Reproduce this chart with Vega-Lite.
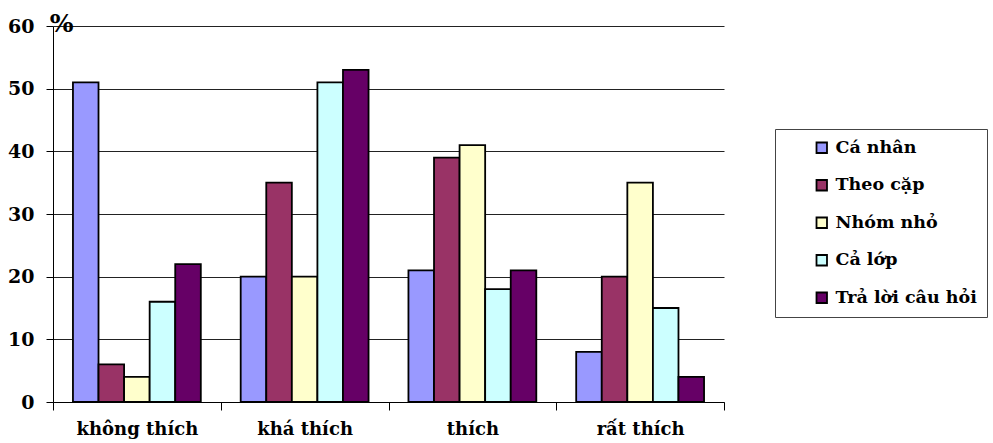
{
  "$schema": "https://vega.github.io/schema/vega-lite/v6.json",
  "autosize": "none",
  "width": 671,
  "height": 376,
  "padding": {"left": 53, "top": 26, "right": 269, "bottom": 41},
  "background": "white",
  "config": {
    "view": {"stroke": null},
    "font": "DejaVu Serif",
    "axis": {"labelFont": "DejaVu Serif", "titleFont": "DejaVu Serif"},
    "legend": {"labelFont": "DejaVu Serif"}
  },
  "data": {
    "values": [
      {"muc": "không thích", "hinh_thuc": "Cá nhân", "pt": 51},
      {"muc": "không thích", "hinh_thuc": "Theo cặp", "pt": 6},
      {"muc": "không thích", "hinh_thuc": "Nhóm nhỏ", "pt": 4},
      {"muc": "không thích", "hinh_thuc": "Cả lớp", "pt": 16},
      {"muc": "không thích", "hinh_thuc": "Trả lời câu hỏi", "pt": 22},
      {"muc": "khá thích", "hinh_thuc": "Cá nhân", "pt": 20},
      {"muc": "khá thích", "hinh_thuc": "Theo cặp", "pt": 35},
      {"muc": "khá thích", "hinh_thuc": "Nhóm nhỏ", "pt": 20},
      {"muc": "khá thích", "hinh_thuc": "Cả lớp", "pt": 51},
      {"muc": "khá thích", "hinh_thuc": "Trả lời câu hỏi", "pt": 53},
      {"muc": "thích", "hinh_thuc": "Cá nhân", "pt": 21},
      {"muc": "thích", "hinh_thuc": "Theo cặp", "pt": 39},
      {"muc": "thích", "hinh_thuc": "Nhóm nhỏ", "pt": 41},
      {"muc": "thích", "hinh_thuc": "Cả lớp", "pt": 18},
      {"muc": "thích", "hinh_thuc": "Trả lời câu hỏi", "pt": 21},
      {"muc": "rất thích", "hinh_thuc": "Cá nhân", "pt": 8},
      {"muc": "rất thích", "hinh_thuc": "Theo cặp", "pt": 20},
      {"muc": "rất thích", "hinh_thuc": "Nhóm nhỏ", "pt": 35},
      {"muc": "rất thích", "hinh_thuc": "Cả lớp", "pt": 15},
      {"muc": "rất thích", "hinh_thuc": "Trả lời câu hỏi", "pt": 4}
    ]
  },
  "mark": {"type": "bar", "stroke": "black", "strokeWidth": 1.8},
  "encoding": {
    "x": {
      "field": "muc",
      "type": "nominal",
      "sort": ["không thích", "khá thích", "thích", "rất thích"],
      "scale": {"paddingInner": 0, "paddingOuter": 0},
      "axis": {
        "title": null,
        "labelAngle": 0,
        "labelFontWeight": "bold",
        "labelFontSize": 18,
        "labelColor": "black",
        "labelPadding": 10,
        "domainColor": "black",
        "domainWidth": 1,
        "tickColor": "black",
        "tickSize": 8,
        "tickBand": "extent",
        "grid": false
      }
    },
    "xOffset": {
      "field": "hinh_thuc",
      "type": "nominal",
      "sort": ["Cá nhân", "Theo cặp", "Nhóm nhỏ", "Cả lớp", "Trả lời câu hỏi"],
      "scale": {"paddingInner": 0, "paddingOuter": 0.78}
    },
    "y": {
      "field": "pt",
      "type": "quantitative",
      "scale": {"domain": [0, 60]},
      "axis": {
        "title": "%",
        "titleAngle": 0,
        "titleX": 8,
        "titleY": 5,
        "titleAlign": "center",
        "titleBaseline": "alphabetic",
        "titleFontWeight": "bold",
        "titleFontSize": 25,
        "titleColor": "black",
        "values": [0, 10, 20, 30, 40, 50, 60],
        "labelFontWeight": "bold",
        "labelFontSize": 19,
        "labelColor": "black",
        "labelPadding": 12,
        "domainColor": "black",
        "tickColor": "black",
        "tickSize": 7,
        "grid": true,
        "gridColor": "#222222",
        "gridWidth": 1,
        "gridOpacity": 1
      }
    },
    "color": {
      "field": "hinh_thuc",
      "type": "nominal",
      "sort": ["Cá nhân", "Theo cặp", "Nhóm nhỏ", "Cả lớp", "Trả lời câu hỏi"],
      "scale": {
        "domain": ["Cá nhân", "Theo cặp", "Nhóm nhỏ", "Cả lớp", "Trả lời câu hỏi"],
        "range": ["#9999FF", "#993366", "#FFFFCC", "#CCFFFF", "#660066"]
      },
      "legend": {
        "title": null,
        "orient": "none",
        "legendX": 722,
        "legendY": 103,
        "padding": 10,
        "symbolOffset": 28,
        "strokeColor": "#444444",
        "fillColor": "white",
        "symbolType": "square",
        "symbolSize": 110,
        "symbolStrokeColor": "black",
        "symbolStrokeWidth": 1.8,
        "symbolOpacity": 1,
        "labelFontWeight": "bold",
        "labelFontSize": 17.5,
        "labelColor": "black",
        "labelOffset": 5,
        "rowPadding": 18.5,
        "labelLimit": 300
      }
    }
  }
}
